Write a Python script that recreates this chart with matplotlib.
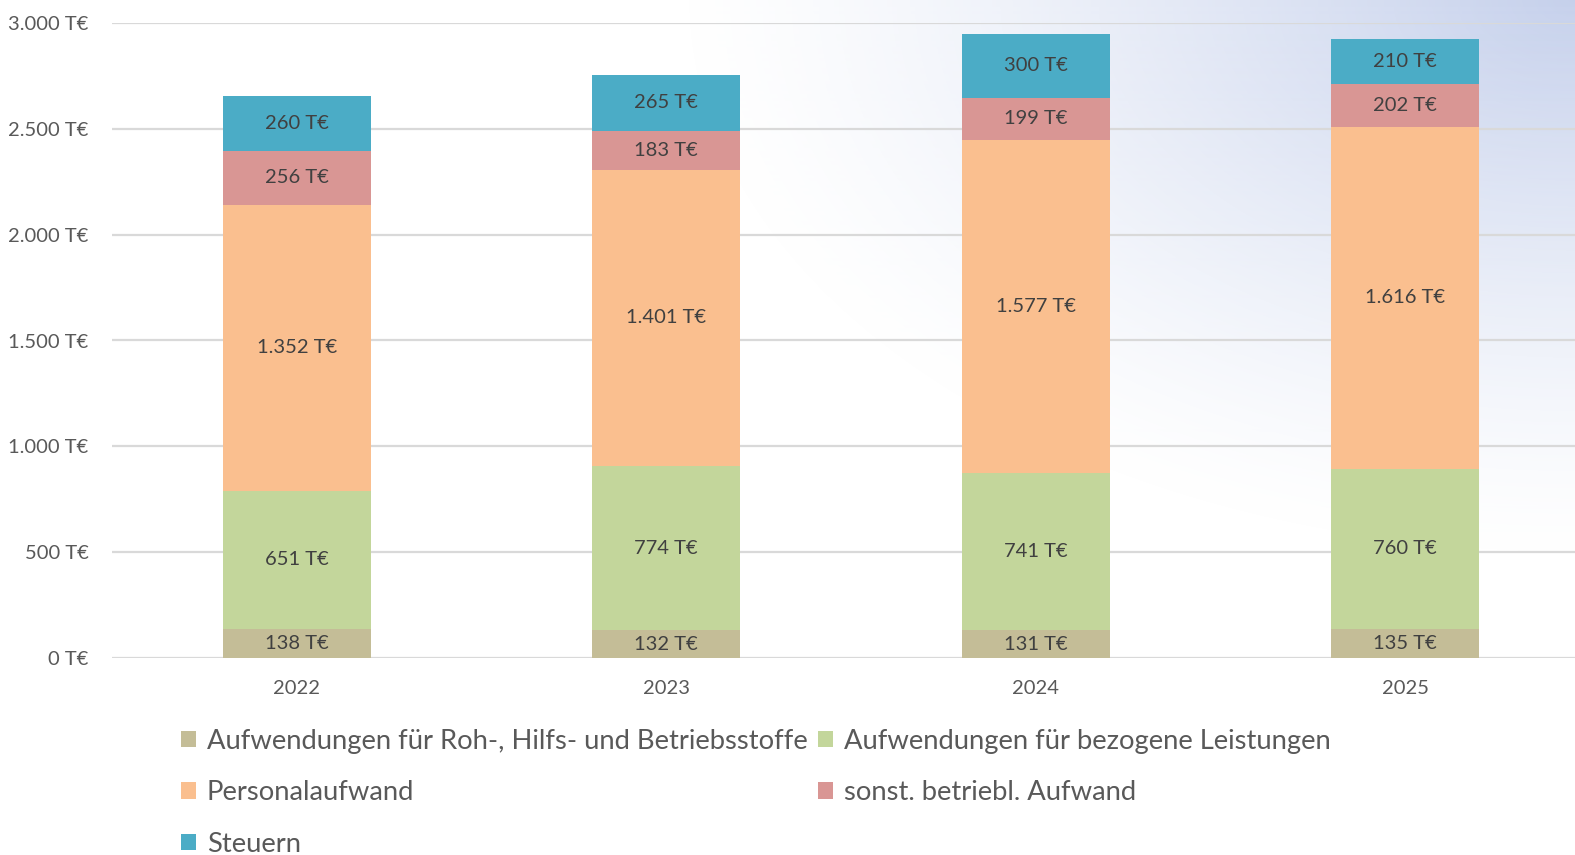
import matplotlib.pyplot as plt
from matplotlib.patches import Patch
import numpy as np

plt.rcParams['font.family'] = ['Lato', 'DejaVu Sans']

# Daten (T€)
jahre = ['2022', '2023', '2024', '2025']
roh = [138, 132, 131, 135]
leistungen = [651, 774, 741, 760]
personal = [1352, 1401, 1577, 1616]
sonstige = [256, 183, 199, 202]
steuern = [260, 265, 300, 210]

namen = ['Aufwendungen für Roh-, Hilfs- und Betriebsstoffe',
         'Aufwendungen für bezogene Leistungen',
         'Personalaufwand',
         'sonst. betriebl. Aufwand',
         'Steuern']
farben = ['#C4BD97', '#C3D69B', '#FABF8F', '#D99694', '#4BACC6']
reihen = [roh, leistungen, personal, sonstige, steuern]


def fmt(v):
	return '{:,}'.format(int(v)).replace(',', '.') + ' T€'


fig = plt.figure(figsize=(15.75, 8.55), dpi=100)

# Hintergrundverlauf oben rechts
bg = fig.add_axes([0, 0, 1, 1], zorder=-1)
h, w = 855, 1575
yy, xx = np.mgrid[0:h, 0:w]
d = np.sqrt(((w - xx) / 900.0) ** 2 + (yy / 560.0) ** 2)
alpha = np.clip(1 - d, 0, 1) ** 1.3 * 0.9
img = np.zeros((h, w, 4))
img[..., 0] = 192 / 255
img[..., 1] = 204 / 255
img[..., 2] = 234 / 255
img[..., 3] = alpha
bg.imshow(img, aspect='auto', extent=[0, 1, 0, 1], origin='upper')
bg.set_axis_off()

ax = fig.add_axes([112 / 1575, 197 / 855, 1478 / 1575, 635 / 855])
ax.set_facecolor('none')

x = np.arange(len(jahre))
unten = np.zeros(len(jahre))
for werte, farbe, name in zip(reihen, farben, namen):
	ax.bar(x, werte, width=0.4, bottom=unten, color=farbe, label=name, zorder=3)
	for xi, b, v in zip(x, unten, werte):
		ax.text(xi, b + v / 2, fmt(v), ha='center', va='center',
				fontsize=14.5, color='#404040', zorder=4)
	unten += np.array(werte)

ax.set_xlim(-0.5, 3.5)
ax.set_ylim(0, 3000)
ax.set_yticks(range(0, 3001, 500))
ax.set_yticklabels([fmt(v) for v in range(0, 3001, 500)])
ax.set_xticks(x)
ax.set_xticklabels(jahre)
ax.tick_params(axis='both', length=0, labelsize=14.5, labelcolor='#595959')
ax.tick_params(axis='y', pad=17)
ax.tick_params(axis='x', pad=16)
ax.grid(axis='y', color='#d9d9d9', linewidth=1.6, zorder=0)
for s in ax.spines.values():
	s.set_visible(False)

# Legende zeilenweise wie im Original
reihenfolge = [0, 2, 4, 1, 3]
handles = [Patch(facecolor=farben[i], edgecolor='none') for i in reihenfolge]
labels = [namen[i] for i in reihenfolge]
fig.legend(handles, labels, ncol=2, loc='upper left',
		   bbox_to_anchor=(156 / 1575, 1 - 704 / 855), frameon=False,
		   fontsize=19.7, labelcolor='#595959', handlelength=0.55, handleheight=0.55,
		   handletextpad=0.4, columnspacing=0.4, labelspacing=0.97)

fig.savefig('out.png', dpi=100)
